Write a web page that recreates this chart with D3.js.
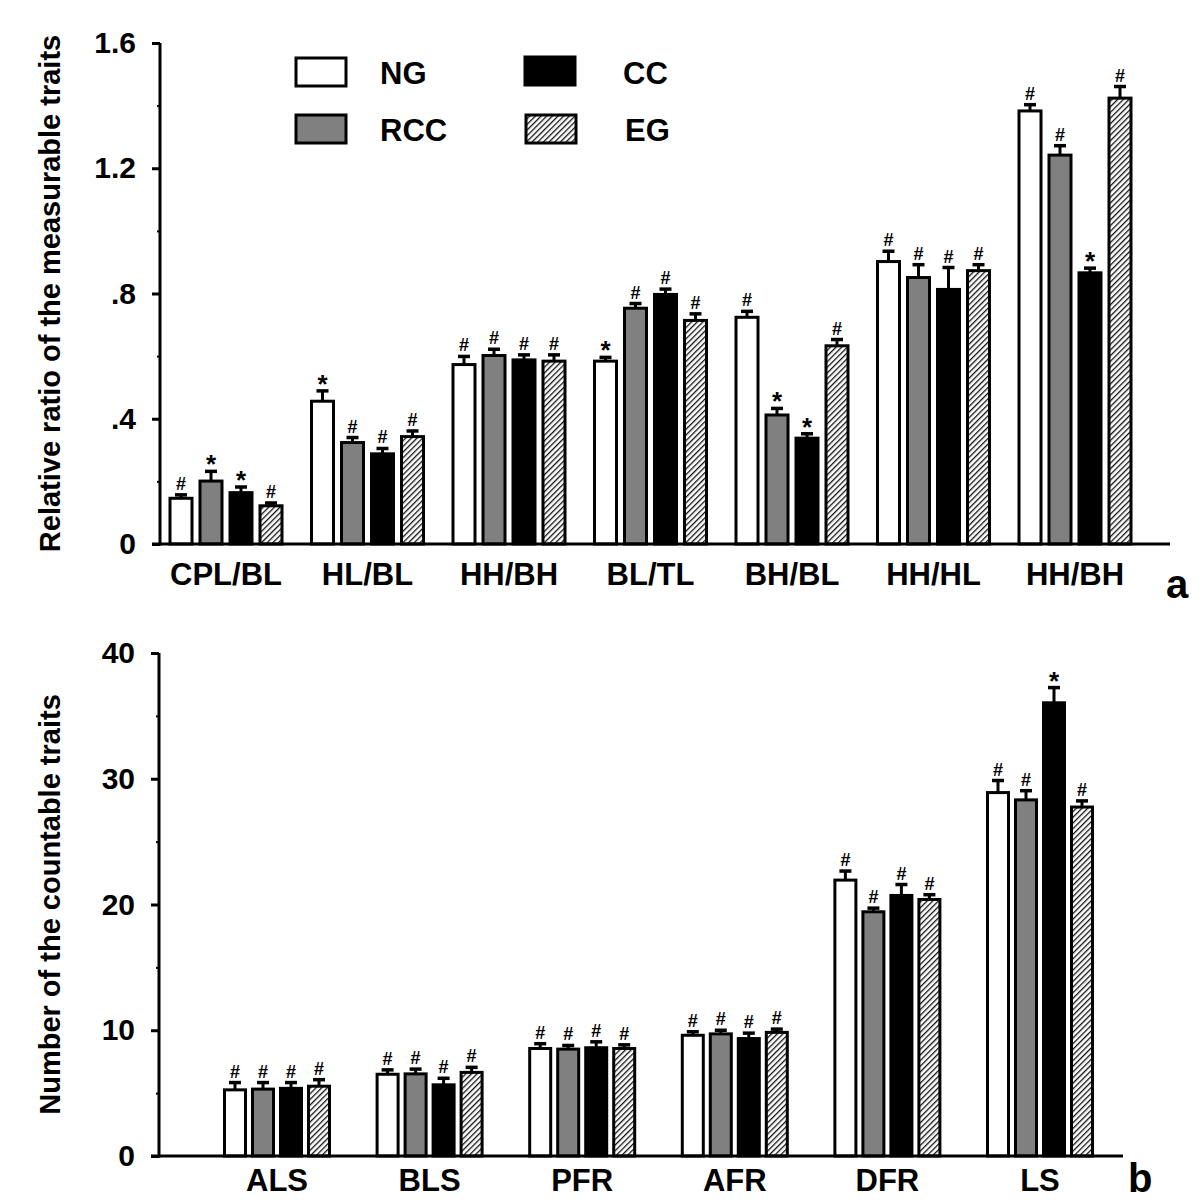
<!DOCTYPE html>
<html>
<head>
<meta charset="utf-8">
<script src="https://cdn.jsdelivr.net/npm/d3@7"></script>
<style>
  html, body { margin: 0; padding: 0; background: #fff; }
  svg { display: block; font-family: "Liberation Sans", Arial, sans-serif; font-weight: bold; }
</style>
</head>
<body>
<svg id="chart" width="1200" height="1200"></svg>
<script>
// ---------- DATA ----------
const groups = ["NG", "RCC", "CC", "EG"];

const topCategories = ["CPL/BL", "HL/BL", "HH/BH", "BL/TL", "BH/BL", "HH/HL", "HH/BH"];
const topNG     = [0.146, 0.456, 0.573, 0.584, 0.724, 0.902, 1.383];
const topNGErr  = [0.011, 0.033, 0.026, 0.012, 0.019, 0.033, 0.020];
const topRCC    = [0.201, 0.324, 0.602, 0.753, 0.412, 0.851, 1.242];
const topRCCErr = [0.031, 0.016, 0.020, 0.015, 0.021, 0.041, 0.030];
const topCC     = [0.164, 0.288, 0.588, 0.797, 0.338, 0.813, 0.866];
const topCCErr  = [0.018, 0.017, 0.016, 0.017, 0.014, 0.070, 0.015];
const topEG     = [0.122, 0.343, 0.584, 0.714, 0.633, 0.873, 1.424];
const topEGErr  = [0.009, 0.018, 0.020, 0.021, 0.020, 0.019, 0.037];
const topNGMark  = ["#", "*", "#", "*", "#", "#", "#"];
const topRCCMark = ["*", "#", "#", "#", "*", "#", "#"];
const topCCMark  = ["*", "#", "#", "#", "*", "#", "*"];
const topEGMark  = ["#", "#", "#", "#", "#", "#", "#"];
const topTicks = [0, 0.4, 0.8, 1.2, 1.6];
const topTickLabels = ["0", ".4", ".8", "1.2", "1.6"];
const topYLabel = "Relative ratio of the measurable traits";

const botCategories = ["ALS", "BLS", "PFR", "AFR", "DFR", "LS"];
const botNG     = [5.26, 6.50, 8.55, 9.60, 21.94, 28.90];
const botNGErr  = [0.58, 0.35, 0.38, 0.28, 0.72, 0.96];
const botRCC    = [5.32, 6.53, 8.50, 9.71, 19.42, 28.32];
const botRCCErr = [0.52, 0.38, 0.29, 0.29, 0.29, 0.73];
const botCC     = [5.38, 5.66, 8.61, 9.34, 20.72, 36.04];
const botCCErr  = [0.46, 0.52, 0.47, 0.43, 0.87, 1.21];
const botEG     = [5.55, 6.65, 8.55, 9.83, 20.40, 27.75];
const botEGErr  = [0.52, 0.40, 0.29, 0.26, 0.38, 0.49];
const botNGMark  = ["#", "#", "#", "#", "#", "#"];
const botRCCMark = ["#", "#", "#", "#", "#", "#"];
const botCCMark  = ["#", "#", "#", "#", "#", "*"];
const botEGMark  = ["#", "#", "#", "#", "#", "#"];
const botTicks = [0, 10, 20, 30, 40];
const botTickLabels = ["0", "10", "20", "30", "40"];
const botYLabel = "Number of the countable traits";

// ---------- STYLE ----------
const fills = { NG: "#ffffff", RCC: "#808080", CC: "#000000", EG: "url(#hatch)" };

const svg = d3.select("#chart");
const defs = svg.append("defs");
const pat = defs.append("pattern")
  .attr("id", "hatch").attr("patternUnits", "userSpaceOnUse")
  .attr("width", 4).attr("height", 4)
  .attr("patternTransform", "rotate(45)");
pat.append("rect").attr("width", 4).attr("height", 4).attr("fill", "#ffffff");
pat.append("line").attr("x1", 0).attr("y1", 0).attr("x2", 0).attr("y2", 4)
  .attr("stroke", "#111").attr("stroke-width", 2.6);

function panel(cfg) {
  const g = svg.append("g");
  const idx = d3.range(cfg.categories.length);
  const y = d3.scaleLinear().domain(cfg.domain).range([cfg.y0, cfg.y1]);
  const x = d3.scalePoint().domain(idx).range(cfg.xRange);
  const off = d3.scalePoint().domain(groups).range([-1.5 * cfg.step, 1.5 * cfg.step]);
  const bw = cfg.barW;

  const series = groups.map((grp, gi) => ({
    grp,
    rows: idx.map(i => ({
      i, v: cfg.values[gi][i], e: cfg.errors[gi][i], m: cfg.marks[gi][i]
    }))
  }));

  // error bars
  series.forEach(s => {
    const eg = g.append("g");
    s.rows.forEach(r => {
      const cx = x(r.i) + off(s.grp);
      eg.append("line").attr("x1", cx).attr("x2", cx)
        .attr("y1", y(r.v)).attr("y2", y(r.v + r.e))
        .attr("stroke", "#000").attr("stroke-width", 3);
      eg.append("line").attr("x1", cx - 6).attr("x2", cx + 6)
        .attr("y1", y(r.v + r.e)).attr("y2", y(r.v + r.e))
        .attr("stroke", "#000").attr("stroke-width", 3.5);
    });
  });

  // bars
  series.forEach(s => {
    g.append("g").selectAll("rect").data(s.rows).join("rect")
      .attr("x", d => x(d.i) + off(s.grp) - bw / 2)
      .attr("width", bw)
      .attr("y", d => y(d.v))
      .attr("height", d => y(0) - y(d.v))
      .attr("fill", fills[s.grp])
      .attr("stroke", "#000").attr("stroke-width", 3);
  });

  // significance marks
  series.forEach(s => {
    g.append("g").selectAll("text").data(s.rows).join("text")
      .attr("x", d => x(d.i) + off(s.grp))
      .attr("y", d => y(d.v + d.e) + (d.m === "*" ? 2 : -5))
      .attr("text-anchor", "middle")
      .attr("font-size", d => d.m === "*" ? 26 : 18)
      .text(d => d.m);
  });

  // axes
  const yAxis = d3.axisLeft(y).tickValues(cfg.ticks)
    .tickFormat((d, i) => cfg.tickLabels[i]).tickSize(8).tickPadding(16);
  const ya = g.append("g").attr("transform", `translate(${cfg.axisX},0)`).call(yAxis);
  ya.select(".domain").attr("d", `M0,${cfg.y1}V${cfg.y0 + 1.5}`).attr("stroke-width", 3);
  ya.selectAll(".tick line").attr("stroke-width", 3);
  ya.selectAll(".tick text").attr("font-size", 30).attr("font-weight", "bold")
    .attr("font-family", "Liberation Sans, Arial, sans-serif").attr("fill", "#000");

  // minor ticks
  const minorAxis = d3.axisLeft(y).tickValues(cfg.minor).tickSize(3).tickFormat("");
  const mi = g.append("g").attr("transform", `translate(${cfg.axisX},0)`).call(minorAxis);
  mi.select(".domain").remove();
  mi.selectAll(".tick line").attr("stroke-width", 2);

  // x axis baseline
  g.append("line").attr("x1", cfg.axisX - 8).attr("x2", cfg.xEnd)
    .attr("y1", y(0)).attr("y2", y(0)).attr("stroke", "#000").attr("stroke-width", 3);

  // category labels
  g.append("g").selectAll("text").data(idx).join("text")
    .attr("x", i => x(i)).attr("y", cfg.labelY)
    .attr("text-anchor", "middle").attr("font-size", 31).text(i => cfg.categories[i]);

  // y label
  g.append("text")
    .attr("transform", `translate(${cfg.yLabelX},${(cfg.y0 + cfg.y1) / 2}) rotate(-90)`)
    .attr("text-anchor", "middle").attr("font-size", 29).text(cfg.yLabel);

  // panel letter
  g.append("text").attr("x", cfg.letterX).attr("y", cfg.letterY)
    .attr("font-size", 40).text(cfg.letter);
}

panel({
  categories: topCategories, domain: [0, 1.6], y0: 544, y1: 43,
  xRange: [226, 1075], step: 30, barW: 22, axisX: 160, xEnd: 1170,
  values: [topNG, topRCC, topCC, topEG],
  errors: [topNGErr, topRCCErr, topCCErr, topEGErr],
  marks: [topNGMark, topRCCMark, topCCMark, topEGMark],
  ticks: topTicks, tickLabels: topTickLabels, minor: [0.2, 0.6, 1.0, 1.4],
  labelY: 585, yLabel: topYLabel, yLabelX: 60, letter: "a", letterX: 1166, letterY: 598
});

panel({
  categories: botCategories, domain: [0, 40], y0: 1156, y1: 653,
  xRange: [277, 1040], step: 28, barW: 21, axisX: 159, xEnd: 1123,
  values: [botNG, botRCC, botCC, botEG],
  errors: [botNGErr, botRCCErr, botCCErr, botEGErr],
  marks: [botNGMark, botRCCMark, botCCMark, botEGMark],
  ticks: botTicks, tickLabels: botTickLabels, minor: [5, 15, 25, 35],
  labelY: 1191, yLabel: botYLabel, yLabelX: 60, letter: "b", letterX: 1128, letterY: 1192
});

// legend
const legendItems = [
  { grp: "NG",  bx: 296, by: 58,  tx: 380, ty: 84 },
  { grp: "RCC", bx: 296, by: 115, tx: 380, ty: 141 },
  { grp: "CC",  bx: 525, by: 57,  tx: 623, ty: 84 },
  { grp: "EG",  bx: 526, by: 115, tx: 625, ty: 141 }
];
const lg = svg.append("g");
legendItems.forEach(it => {
  lg.append("rect").attr("x", it.bx).attr("y", it.by).attr("width", 50).attr("height", 28)
    .attr("fill", fills[it.grp]).attr("stroke", "#000").attr("stroke-width", 3);
  lg.append("text").attr("x", it.tx).attr("y", it.ty).attr("font-size", 31).text(it.grp);
});
</script>
</body>
</html>
